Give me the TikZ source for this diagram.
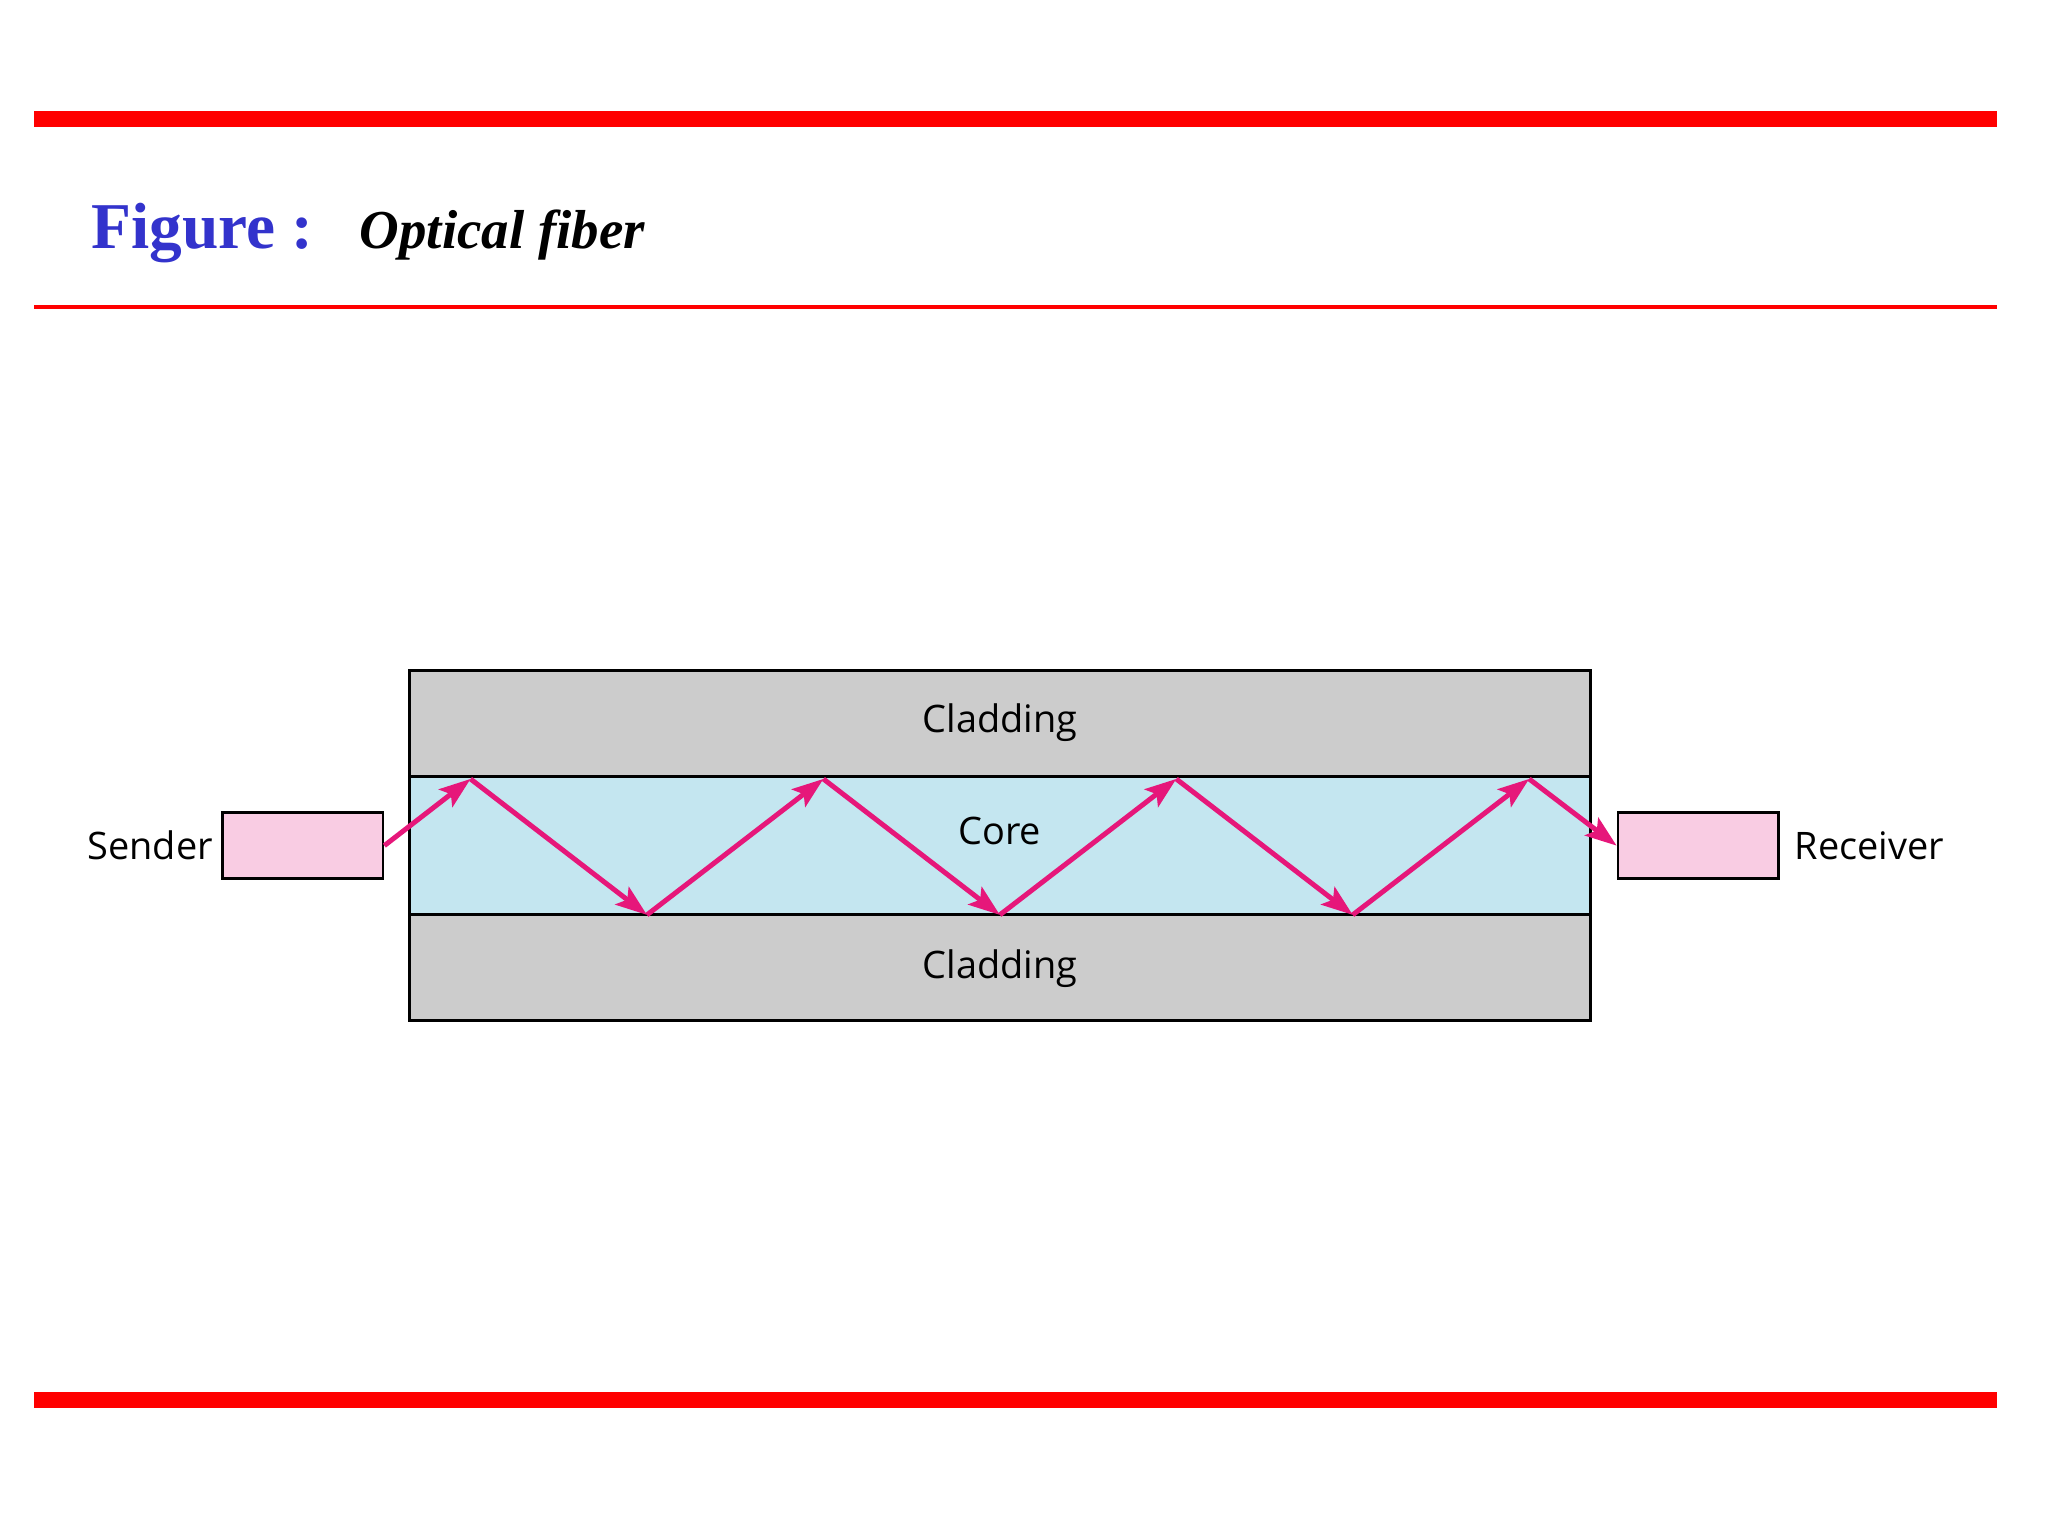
\documentclass[tikz,border=0pt]{standalone}
\usepackage{fontspec}
\setmainfont{Liberation Serif}
\newfontfamily\diagfont{Open Sans}
\usetikzlibrary{arrows.meta}
\definecolor{cladgray}{HTML}{CCCCCC}
\definecolor{coreblue}{HTML}{C4E6F0}
\definecolor{boxpink}{HTML}{F9CCE3}
\definecolor{ray}{HTML}{E6177A}
\definecolor{titleblue}{HTML}{3333CC}
\begin{document}
\begin{tikzpicture}[x=1pt,y=-1pt,
  layer/.style={draw=black,line width=2.2pt},
  dev/.style={draw=black,fill=boxpink,line width=2.2pt,minimum width=123pt,minimum height=50pt,inner sep=0pt},
  lbl/.style={font=\diagfont\fontsize{29}{32}\selectfont,inner sep=0pt},
  rayseg/.style={draw=ray,line width=3.8pt,-{Stealth[length=24pt,width=17pt,inset=5pt]}}]
\useasboundingbox (0,0) rectangle (1567,1175);
\fill[red] (26,85) rectangle (1528,97);
\fill[red] (26,233.5) rectangle (1528,236.5);
\fill[red] (26,1065) rectangle (1528,1077);
\node[anchor=base west,inner sep=0pt,text=titleblue,font=\bfseries\fontsize{50}{56}\selectfont] (t1) at (70,190) {Figure :};
\node[anchor=base west,inner sep=0pt,font=\bfseries\itshape\fontsize{42}{48}\selectfont] (t2) at (275,190) {Optical fiber};
\path[layer,fill=cladgray] (313,513) rectangle (1217,594);
\path[layer,fill=coreblue] (313,594) rectangle (1217,700);
\path[layer,fill=cladgray] (313,700) rectangle (1217,781);
\node[lbl] (c1) at (765,553) {Cladding};
\node[lbl] (core) at (765,636) {Core};
\node[lbl] (c2) at (765,741) {Cladding};
\node[dev] (snd) at (231.5,647) {};
\node[dev] (rcv) at (1299.5,647) {};
\node[lbl,anchor=east] (st) at (163,647) {Sender};
\node[lbl,anchor=west] (rt) at (1373,647) {Receiver};
\coordinate (p1) at (360,596);
\coordinate (p2) at (495,700);
\coordinate (p3) at (630,596);
\coordinate (p4) at (765,700);
\coordinate (p5) at (900,596);
\coordinate (p6) at (1035,700);
\coordinate (p7) at (1170,596);
\draw[rayseg] (snd.east) -- (p1);
\draw[rayseg] (p1) -- (p2);
\draw[rayseg] (p2) -- (p3);
\draw[rayseg] (p3) -- (p4);
\draw[rayseg] (p4) -- (p5);
\draw[rayseg] (p5) -- (p6);
\draw[rayseg] (p6) -- (p7);
\draw[rayseg] (p7) -- (rcv.west);
\end{tikzpicture}
\end{document}
